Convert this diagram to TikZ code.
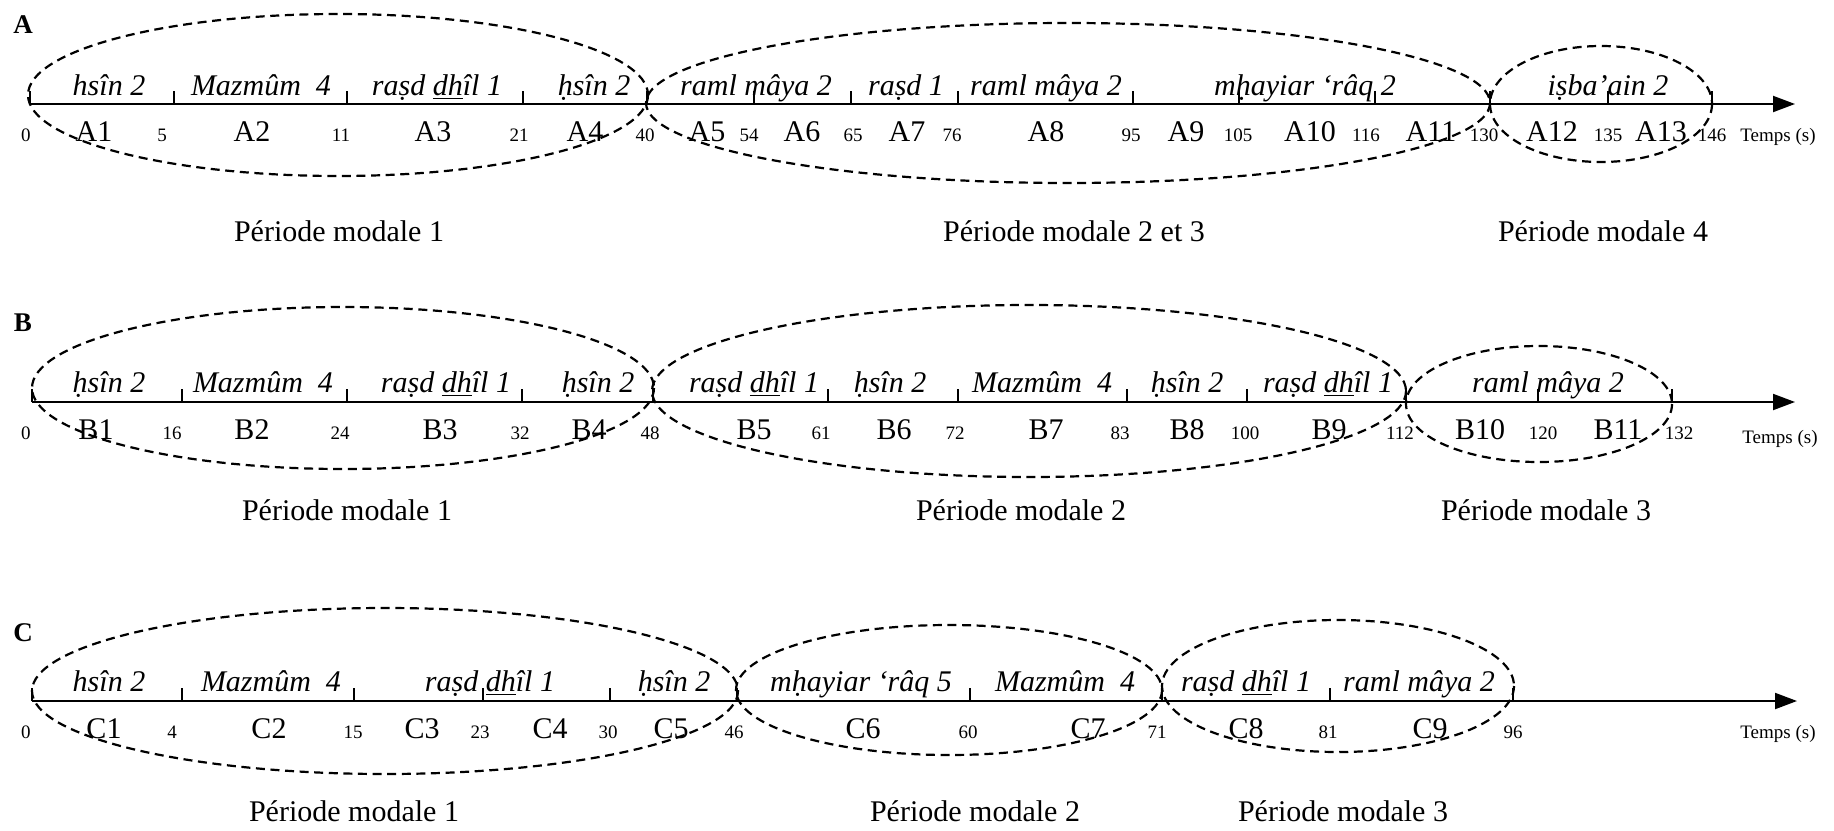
\documentclass[tikz,border=0pt]{standalone}
\usepackage{fontspec}
\setmainfont{Liberation Serif}
\usetikzlibrary{arrows.meta}

\tikzset{
  axe/.style={line width=1pt, -{Triangle[length=11pt,width=8pt]}},
  repere/.style={line width=1pt},
  periode/.style={line width=1.1pt, dash pattern=on 4.5pt off 2.8pt},
  maqam/.style={font=\fontsize{15}{18}\selectfont\itshape, anchor=base, inner sep=0pt},
  seg/.style={font=\fontsize{15}{18}\selectfont, anchor=base, inner sep=0pt},
  borne/.style={font=\fontsize{9.5}{11}\selectfont, anchor=base, inner sep=0pt},
  titre/.style={font=\fontsize{13.5}{16}\selectfont\bfseries, anchor=base, inner sep=0pt},
  modale/.style={font=\fontsize{15}{18}\selectfont, anchor=base, inner sep=0pt},
}

\begin{document}
\begin{tikzpicture}[x=0.5pt, y=-0.5pt]
    \useasboundingbox (0,0) rectangle (1834,830);

    % Interpretation A
    \node[titre] (lblA) at (23,33) {A};
    \coordinate (A0) at (30,104);
    \coordinate (Afin) at (1795,104);
    \draw[axe] (A0) -- (Afin);
    \foreach \x in {30,174,347,523,647,754,851,958,1133,1239,1375,1490,1608,1712}
        \draw[repere] (\x,104) -- (\x,91);
    \foreach \x/\t [count=\i] in {26/0,162/5,341/11,519/21,645/40,749/54,853/65,952/76,1131/95,1238/105,1366/116,1484/130,1608/135,1712/146}
        \node[borne] (nA\i) at (\x,141) {\t};
    \foreach \x [count=\i] in {94,252,433,585,707,802,907,1046,1186,1310,1431,1552,1661}
        \node[seg] (sA\i) at (\x,141) {A\i};
    \foreach \x/\m [count=\i] in {109/hsîn 2, 261/Mazmûm\enspace 4, 437/raṣd \underline{dh}îl 1, 594/ḥsîn 2, 756/raml mâya 2, 906/raṣd 1, 1046/raml mâya 2, 1305/mḥayiar ‘râq 2, 1608/iṣba’ain 2}
        \node[maqam] (mA\i) at (\x,95) {\m};
    \node[borne] (tpsA) at (1778,141) {Temps (s)};
    \draw[periode] (338,95) ellipse [x radius=310, y radius=81];
    \draw[periode] (1068,103) ellipse [x radius=422, y radius=80];
    \draw[periode] (1601,104) ellipse [x radius=111, y radius=58];
    \node[modale] (pA1) at (339,241) {Période modale 1};
    \node[modale] (pA2) at (1074,241) {Période modale 2 et 3};
    \node[modale] (pA3) at (1603,241) {Période modale 4};

    % Interpretation B
    \node[titre] (lblB) at (23,331) {B};
    \coordinate (B0) at (32,402);
    \coordinate (Bfin) at (1795,402);
    \draw[axe] (B0) -- (Bfin);
    \foreach \x in {32,182,347,522,653,828,958,1127,1247,1406,1538,1672}
        \draw[repere] (\x,402) -- (\x,389);
    \foreach \x/\t [count=\i] in {26/0,172/16,340/24,520/32,650/48,821/61,955/72,1120/83,1245/100,1400/112,1543/120,1679/132}
        \node[borne] (nB\i) at (\x,439) {\t};
    \foreach \x [count=\i] in {96,252,440,589,754,894,1046,1187,1329,1480,1618}
        \node[seg] (sB\i) at (\x,439) {B\i};
    \foreach \x/\m [count=\i] in {109/ḥsîn 2, 263/Mazmûm\enspace 4, 446/raṣd \underline{dh}îl 1, 598/ḥsîn 2, 754/raṣd \underline{dh}îl 1, 890/ḥsîn 2, 1042/Mazmûm\enspace 4, 1187/ḥsîn 2, 1328/raṣd \underline{dh}îl 1, 1548/raml mâya 2}
        \node[maqam] (mB\i) at (\x,392) {\m};
    \node[borne] (tpsB) at (1780,443) {Temps (s)};
    \draw[periode] (343,388) ellipse [x radius=311, y radius=81];
    \draw[periode] (1029,391) ellipse [x radius=377, y radius=86];
    \draw[periode] (1539,404) ellipse [x radius=133, y radius=58];
    \node[modale] (pB1) at (347,520) {Période modale 1};
    \node[modale] (pB2) at (1021,520) {Période modale 2};
    \node[modale] (pB3) at (1546,520) {Période modale 3};

    % Interpretation C
    \node[titre] (lblC) at (23,641) {C};
    \coordinate (C0) at (32,701);
    \coordinate (Cfin) at (1797,701);
    \draw[axe] (C0) -- (Cfin);
    \foreach \x in {32,182,354,483,610,737,970,1162,1330,1513}
        \draw[repere] (\x,701) -- (\x,688);
    \foreach \x/\t [count=\i] in {26/0,172/4,353/15,480/23,608/30,734/46,968/60,1157/71,1328/81,1513/96}
        \node[borne] (nC\i) at (\x,738) {\t};
    \foreach \x [count=\i] in {104,269,422,550,671,863,1088,1246,1430}
        \node[seg] (sC\i) at (\x,738) {C\i};
    \foreach \x/\m [count=\i] in {109/hsîn 2, 271/Mazmûm\enspace 4, 490/raṣd \underline{dh}îl 1, 674/ḥsîn 2, 861/mḥayiar ‘râq 5, 1065/Mazmûm\enspace 4, 1246/raṣd \underline{dh}îl 1, 1419/raml mâya 2}
        \node[maqam] (mC\i) at (\x,691) {\m};
    \node[borne] (tpsC) at (1778,738) {Temps (s)};
    \draw[periode] (385,691) ellipse [x radius=353, y radius=83];
    \draw[periode] (949,690) ellipse [x radius=213, y radius=65];
    \draw[periode] (1338,686) ellipse [x radius=176, y radius=66];
    \node[modale] (pC1) at (354,821) {Période modale 1};
    \node[modale] (pC2) at (975,821) {Période modale 2};
    \node[modale] (pC3) at (1343,821) {Période modale 3};
\end{tikzpicture}
\end{document}
